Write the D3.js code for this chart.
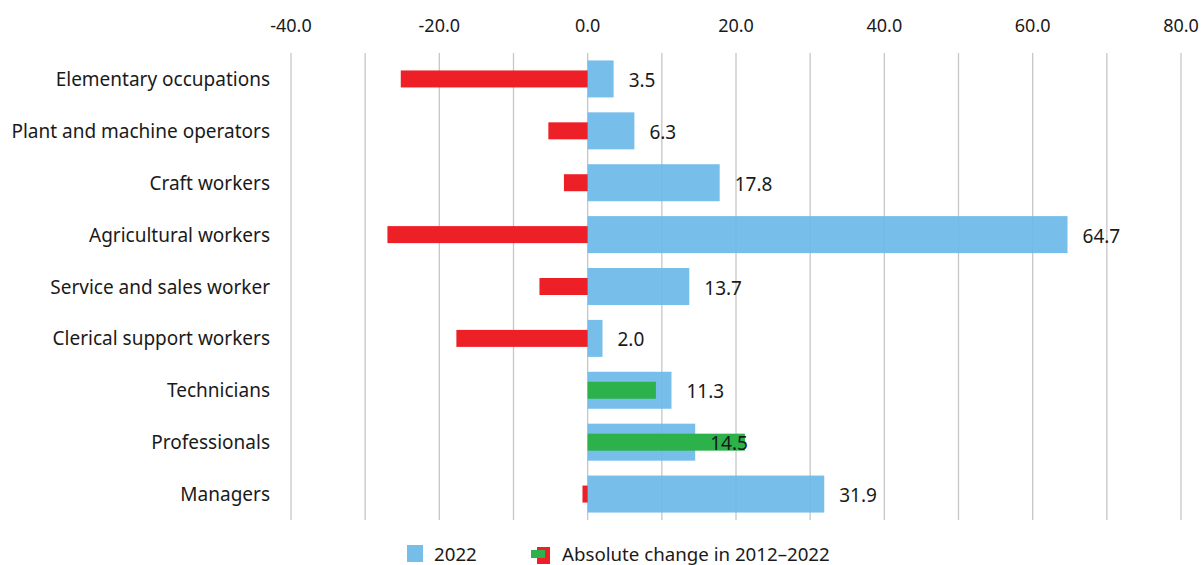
<!DOCTYPE html>
<html>
<head>
<meta charset="utf-8">
<script src="https://cdn.jsdelivr.net/npm/d3@7"></script>
<style>
  body { margin: 0; background: #fff; }
  text { font-family: "Noto Sans", sans-serif; fill: #1a1a1a; }
</style>
</head>
<body>
<script>
// occupations, top to bottom
const categories = ['Elementary occupations', 'Plant and machine operators', 'Craft workers',
  'Agricultural workers', 'Service and sales worker', 'Clerical support workers',
  'Technicians', 'Professionals', 'Managers'];
const values2022 = [3.5, 6.3, 17.8, 64.7, 13.7, 2.0, 11.3, 14.5, 31.9]; // 2022
const change = [-25.2, -5.3, -3.2, -27.0, -6.5, -17.7, 9.2, 21.2, -0.7]; // absolute change 2012-2022
const tickValues = [-40, -20, 0, 20, 40, 60, 80];
const gridValues = d3.range(-40, 81, 10);

const width = 1203, height = 565;
const plotLeft = 291, plotRight = 1181, plotTop = 53, plotBottom = 520;

const svg = d3.select('body').append('svg')
  .attr('width', width)
  .attr('height', height);

const x = d3.scaleLinear().domain([-40, 80]).range([plotLeft, plotRight]);
const y = d3.scaleBand().domain(categories).range([plotTop, plotBottom]);

// gridlines
svg.append('g').selectAll('line')
  .data(gridValues)
  .enter().append('line')
  .attr('x1', d => x(d)).attr('x2', d => x(d))
  .attr('y1', plotTop).attr('y2', plotBottom)
  .style('stroke', '#c6c6c6')
  .style('stroke-width', 1.3);

// top tick labels
svg.append('g').selectAll('text')
  .data(tickValues)
  .enter().append('text')
  .attr('x', d => x(d))
  .attr('y', 32)
  .attr('text-anchor', 'middle')
  .style('font-size', '18px')
  .text(d => d.toFixed(1));

// category labels
svg.append('g').selectAll('text')
  .data(categories)
  .enter().append('text')
  .attr('x', 270)
  .attr('y', d => y(d) + y.bandwidth() / 2 + 7)
  .attr('text-anchor', 'end')
  .style('font-size', '19px')
  .text(d => d);

const blueH = 37, changeH = 17;

// 2022 bars
svg.append('g').selectAll('rect')
  .data(values2022)
  .enter().append('rect')
  .attr('x', x(0))
  .attr('y', (d, i) => y(categories[i]) + y.bandwidth() / 2 - blueH / 2)
  .attr('width', d => x(d) - x(0))
  .attr('height', blueH)
  .style('fill', '#6bb9e8')
  .style('opacity', 0.92);

// change bars
svg.append('g').selectAll('rect')
  .data(change)
  .enter().append('rect')
  .attr('x', d => x(Math.min(0, d)))
  .attr('y', (d, i) => y(categories[i]) + y.bandwidth() / 2 - changeH / 2)
  .attr('width', d => Math.abs(x(d) - x(0)))
  .attr('height', changeH)
  .style('fill', d => d < 0 ? '#ee2027' : '#2db14a');

// value labels
svg.append('g').selectAll('text')
  .data(values2022)
  .enter().append('text')
  .attr('x', d => x(d) + 15)
  .attr('y', (d, i) => y(categories[i]) + y.bandwidth() / 2 + 8)
  .style('font-size', '19px')
  .text(d => d.toFixed(1));

// legend
const legend = svg.append('g');
legend.append('rect').attr('x', 407).attr('y', 545).attr('width', 16).attr('height', 17).style('fill', '#75bee9');
legend.append('text').attr('x', 434).attr('y', 561).style('font-size', '18.7px').text('2022');
legend.append('rect').attr('x', 537).attr('y', 547).attr('width', 13).attr('height', 17).style('fill', '#ee2027');
legend.append('rect').attr('x', 531).attr('y', 550).attr('width', 14).attr('height', 8).style('fill', '#2db14a');
legend.append('text').attr('x', 562).attr('y', 561).style('font-size', '18.7px').text('Absolute change in 2012–2022');
</script>
</body>
</html>
